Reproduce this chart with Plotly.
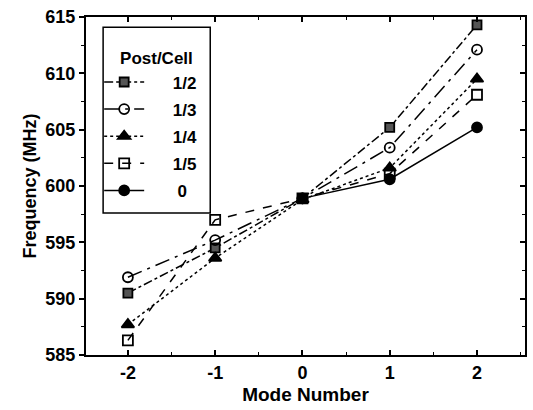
import plotly.graph_objects as go

modes = [-2, -1, 0, 1, 2]
modes_zero = [0, 1, 2]
f_half = [590.5, 594.5, 598.9, 605.2, 614.3]
f_third = [591.9, 595.2, 598.9, 603.4, 612.1]
f_quarter = [587.7, 593.6, 598.8, 601.6, 609.5]
f_fifth = [586.3, 597.0, 598.9, 601.1, 608.1]
f_zero = [598.9, 600.6, 605.2]
labels = ["1/2", "1/3", "1/4", "1/5", "0"]
yticks = [585, 590, 595, 600, 605, 610, 615]
xticks = [-2, -1, 0, 1, 2]
xticklabels = ["-2", "-1", "0", "1", "2"]

FONT = "Liberation Sans, Arial, sans-serif"

series = [
    (modes, f_half, labels[0], "dashdot", "square", "#555555", 9),
    (modes, f_third, labels[1], "longdashdot", "circle-open", "black", 10),
    (modes, f_quarter, labels[2], "dot", "triangle-up", "black", 11),
    (modes, f_fifth, labels[3], "dash", "square-open", "black", 10),
    (modes_zero, f_zero, labels[4], "solid", "circle", "black", 10),
]

fig = go.Figure()
for i, (xs, ys, name, dash, sym, col, sz) in enumerate(series):
    fig.add_trace(go.Scatter(
        x=xs, y=ys, name=("      " + name) if len(name) == 1 else ("     " + name),
        mode="lines+markers", legendgroup=str(i),
        line=dict(color="black", width=1.5, dash=dash),
        marker=dict(symbol=sym, size=sz, color=col,
                    line=dict(color="black", width=1.8)),
    ))

axis_font = dict(family=FONT, size=18, color="black", weight="bold")

fig.update_layout(
    width=533, height=410,
    margin=dict(l=86, r=8, t=17, b=55, autoexpand=False),
    paper_bgcolor="white", plot_bgcolor="white",
    font=dict(family=FONT, color="black"),
    showlegend=True,
    legend=dict(
        x=0.03, y=0.925, xanchor="left", yanchor="top",
        borderwidth=0, bgcolor="rgba(0,0,0,0)",
        title=dict(text="    Post/Cell", font=dict(family=FONT, size=17, color="black", weight="bold"), side="top"),
        font=dict(family=FONT, size=17, color="black", weight="bold"),
        tracegroupgap=2, itemwidth=40,
    ),
    shapes=[dict(type="rect", xref="paper", yref="paper",
                 x0=0.039, x1=0.283, y0=0.42, y1=0.97,
                 line=dict(color="black", width=1.5), fillcolor="rgba(0,0,0,0)",
                 layer="above")],
    xaxis=dict(
        range=[-2.48, 2.55], tickvals=xticks, ticktext=xticklabels,
        ticks="inside", ticklen=5, tickwidth=1.5, tickcolor="black",
        minor=dict(dtick=0.5, tick0=0, ticks="inside", ticklen=3, tickcolor="black", tickwidth=1.2),
        showline=True, linecolor="black", linewidth=2, mirror=True,
        showgrid=False, zeroline=False, tickfont=axis_font, automargin=False,
        title=dict(text="Mode Number", font=dict(family=FONT, size=19, color="black", weight="bold"), standoff=6),
    ),
    yaxis=dict(
        range=[585, 615], tickvals=yticks, ticks="outside", ticklen=5,
        tickwidth=1.5, tickcolor="black",
        minor=dict(dtick=2.5, tick0=585, ticks="outside", ticklen=3, tickcolor="black", tickwidth=1.2),
        showline=True, linecolor="black", linewidth=2, mirror=True,
        showgrid=False, zeroline=False, tickfont=axis_font, automargin=False,
        title=dict(text="Frequency (MHz)", font=axis_font, standoff=4),
    ),
    xaxis2=dict(
        overlaying="x", side="top", range=[-2.48, 2.55], tickvals=xticks,
        ticks="inside", ticklen=5, tickwidth=1.5, tickcolor="black",
        minor=dict(dtick=0.5, tick0=0, ticks="inside", ticklen=3, tickcolor="black", tickwidth=1.2),
        showticklabels=False, showgrid=False, zeroline=False, showline=False,
        automargin=False,
    ),
    yaxis2=dict(
        overlaying="y", side="right", range=[585, 615], tickvals=yticks,
        ticks="inside", ticklen=5, tickwidth=1.5, tickcolor="black",
        minor=dict(dtick=2.5, tick0=585, ticks="inside", ticklen=3, tickcolor="black", tickwidth=1.2),
        showticklabels=False, showgrid=False, zeroline=False, showline=False,
        automargin=False,
    ),
)
# invisible anchor trace so the mirrored tick axes are drawn
fig.add_trace(go.Scatter(x=[None], y=[None], xaxis="x2", yaxis="y2",
                         showlegend=False, hoverinfo="skip"))

fig.write_html("out.html", config={"displayModeBar": False},
               post_script="document.body.style.margin='0';document.body.style.overflow='hidden';")
